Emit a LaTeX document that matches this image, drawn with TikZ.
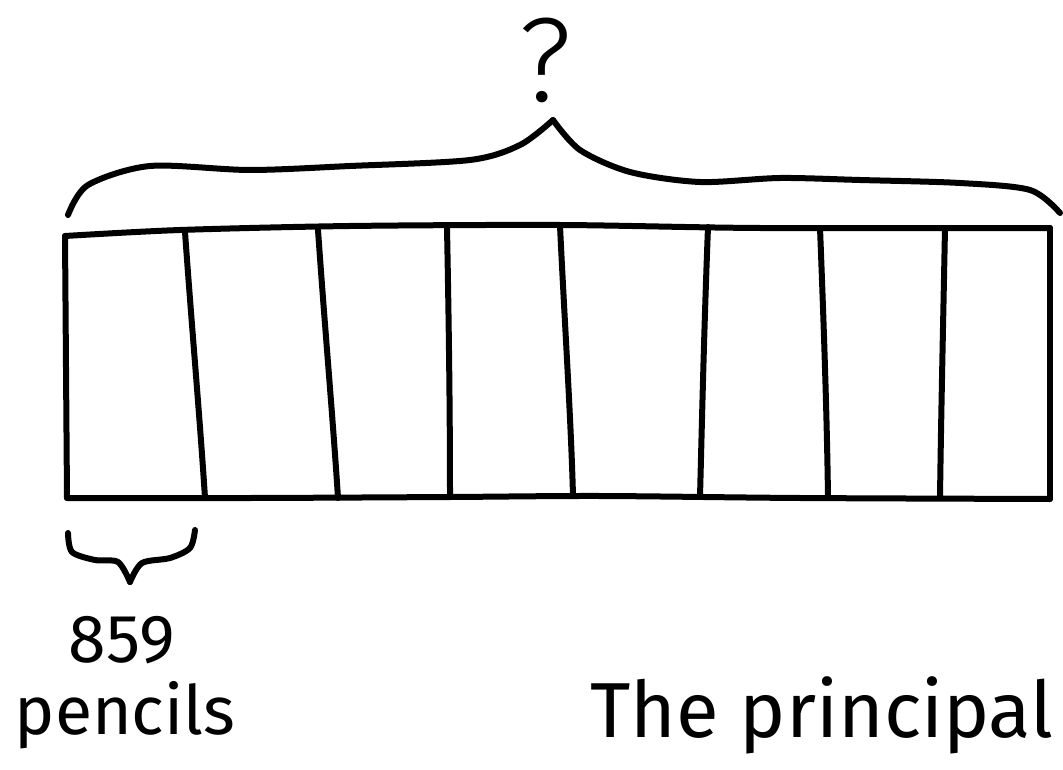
\documentclass[tikz,border=0pt]{standalone}
\usepackage{fontspec}
\setmainfont{Fira Sans}
\newfontfamily\qfont{Fira Sans Light}
\begin{document}
\begin{tikzpicture}[x=1pt,y=-1pt,
  ink/.style={line width=6pt, line cap=round, line join=round, black},
  lbl/.style={inner sep=0pt, font=\fontsize{68}{70}\selectfont},
  biglbl/.style={inner sep=0pt, font=\fontsize{78}{80}\selectfont},
  qlbl/.style={inner sep=0pt, font=\qfont\fontsize{120}{120}\selectfont}]
\useasboundingbox[fill=white] (0,0) rectangle (1063,770);
% tape outline
\draw[ink] plot[smooth] coordinates {(65,236)(180,230)(350,226)(560,225)(760,228)(1050,228)};
\draw[ink] plot[smooth] coordinates {(67,498)(250,498)(450,497)(600,496)(800,498)(1050,499)};
\draw[ink] (65,236) -- (67,498);
\draw[ink] (1050,228) -- (1050,499);
% dividers
\draw[ink] (185,232) .. controls (192,330) and (200,420) .. (205,498);
\draw[ink] (318,230) .. controls (325,330) and (333,420) .. (338,498);
\draw[ink] (447,228) .. controls (449,330) and (450,420) .. (450,497);
\draw[ink] (560,226) .. controls (565,330) and (571,420) .. (573,496);
\draw[ink] (708,227) .. controls (704,330) and (702,420) .. (700,497);
\draw[ink] (820,228) .. controls (824,330) and (827,420) .. (828,498);
\draw[ink] (945,228) .. controls (943,330) and (941,420) .. (940,498);
% top brace
\draw[ink] plot[smooth] coordinates {(68,215)(88,185)(150,166)(250,170)(350,166)(470,160)(520,145)(553,120)};
\draw[ink] plot[smooth] coordinates {(553,120)(580,150)(630,172)(700,182)(780,178)(860,180)(960,183)(1030,190)(1060,213)};
% small brace
\draw[ink] plot[smooth] coordinates {(68,533)(72,552)(95,560)(118,562)(130,582)};
\draw[ink] plot[smooth] coordinates {(130,582)(142,563)(170,558)(190,548)(195,530)};
% labels
\node[qlbl] (q) at (545,60) {?};
\node[lbl] (n) at (122,640) {859};
\node[lbl] (p) at (125,715) {pencils};
\node[biglbl] (t) at (822,715) {The principal};
\end{tikzpicture}
\end{document}
